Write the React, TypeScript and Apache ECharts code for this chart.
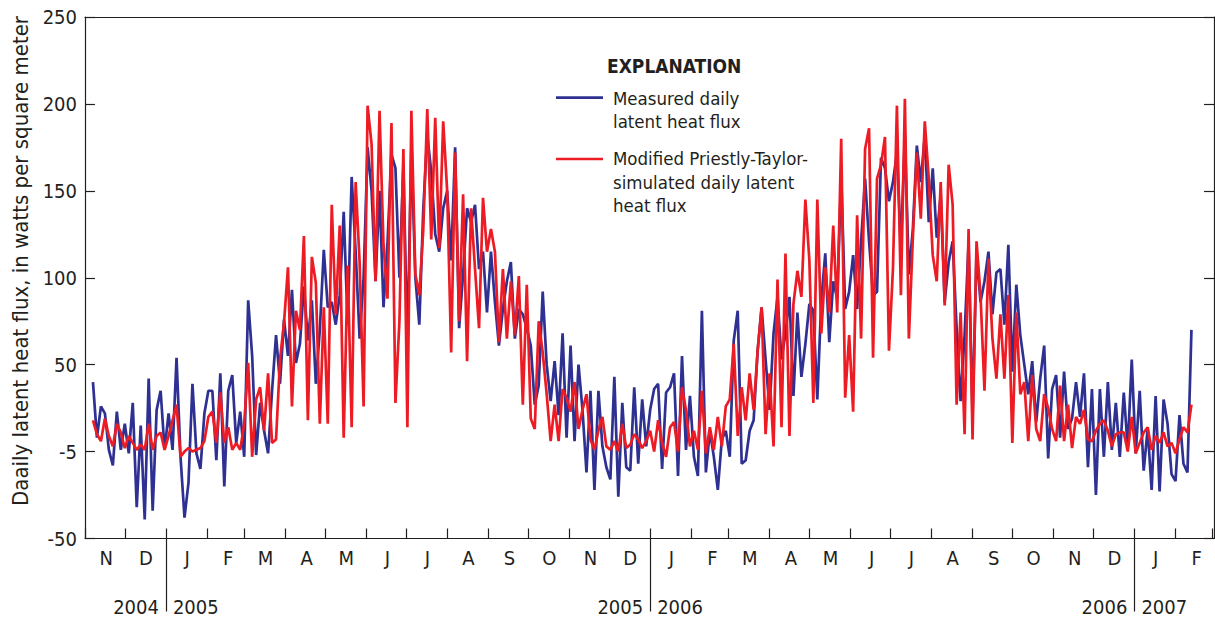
import React, { useEffect, useRef } from "react";
import * as echarts from "echarts";

const FONT = "'Liberation Sans Narrow', 'DejaVu Sans Condensed', 'Roboto Condensed', 'Noto Sans', sans-serif";
const INK = "#231F20";
const BLUE = "#2E3192";
const RED = "#ED1C24";

// Axis runs daily from 1 Nov 2004
const axisStartUTC = Date.UTC(2004, 10, 1);
const axisDays = 852;
// Values every third day, starting 7 Nov 2004
const sampleStartOffset = 6;
const sampleStepDays = 3;

const monthLetters = ["J", "F", "M", "A", "M", "J", "J", "A", "S", "O", "N", "D"];
const yTickValues = [-50, 0, 50, 100, 150, 200, 250];
const yTickLabels = ["-50", "-5", "50", "100", "150", "200", "250"];

// Measured daily latent heat flux (W/m2)
const measuredNov2004toAug2005 = [
  40, 8, 26, 22, 1, -8, 23, 1, 16, -1, 28, -32, 15, -39, 42, -34, 24, 35, 1, 22, 1, 54, -3, -38, -18, 39, -1, -10, 22, 35,
  35, -5, 45, -20, 35, 44, 5, 23, -3, 87, 55, -2, 28, 12, -1, 35, 67, 39, 76, 55, 93, 51, 62, 95, 64, 87, 39, 70, 116, 83, 86,
  73, 90, 138, 73, 158, 115, 65, 100, 175, 150, 98, 150, 83, 120, 171, 163, 100, 165, 60, 175, 100, 73, 140, 182, 161, 125, 115, 140, 150, 110, 175, 71,
];
const measuredAug2005toMay2006 = [
  102, 140, 132, 142, 105, 115, 80, 115, 86, 61, 82, 98, 109, 65, 82, 79, 71, 61, 27, 38, 92, 50, 29, 52, 21, 68, 8, 61, 6, 50,
  24, -12, 35, -22, 35, 3, -9, -16, 43, -26, 28, -9, -11, 37, -7, 30, 3, 24, 36, 39, -10, 34, 37, 45, -14, 55, 1, 32, -3, -14, 81,
  -12, 12, -3, -22, 7, 12, -3, 64, 81, -7, -5, 12, 18, 58, 83, 53, 24, 68, 89, 53, 68, 89, 32, 80, 43, 62, 85, 81, 30, 87, 114,
];
const measuredMay2006toFeb2007 = [
  63, 98, 88, 159, 82, 92, 113, 82, 121, 157, 121, 90, 92, 169, 163, 144, 155, 172, 117, 182, 102, 128, 176, 155, 182, 132, 163, 123, 148, 86, 109,
  121, 71, 29, 67, 120, 20, 115, 86, 98, 115, 79, 103, 105, 73, 119, 46, 96, 67, 50, 33, 52, 17, 42, 61, -4, 36, 44, 8, 46, 13, 19,
  40, 20, 45, -9, 36, -25, 36, -3, 40, 1, 28, -3, 34, 2, 53, -1, 35, -11, 13, -22, 32, -23, 30, 16, -13, -17, 21, -7, -12, 70,
];

// Modified Priestly-Taylor-simulated daily latent heat flux (W/m2)
const simulatedNov2004toAug2005 = [
  18, 10, 6, 19, 9, 3, 16, 11, 2, 9, 5, 1, 4, 1, 16, 1, 9, 11, 1, 9, 18, 27, -3, 0, 2, 0, 1, 2, 6, 20,
  23, 5, 34, 5, 14, 1, 5, 1, 16, 51, -3, 30, 37, 12, 45, 5, 7, 53, 74, 106, 26, 81, 70, 124, 18, 112, 97, 16, 83, 16, 142,
  79, 130, 8, 107, 14, 155, 109, 26, 199, 177, 98, 196, 119, 88, 189, 28, 75, 174, 14, 196, 102, 90, 128, 197, 122, 192, 117, 190, 150, 57, 172, 75,
];
const simulatedAug2005toMay2006 = [
  148, 52, 140, 105, 71, 146, 115, 128, 115, 63, 105, 65, 98, 67, 101, 27, 96, 19, 13, 75, 57, 33, 6, 27, 6, 36, 31, 23, 40, 13,
  24, 33, 7, 1, 12, 20, 3, 1, 6, 0, 16, 2, 4, 10, 7, 2, 6, 12, 0, 18, 5, -3, 14, 17, 0, 37, 24, 3, 12, 1, 35,
  -1, 14, 1, 20, 3, 26, 30, 62, 9, 37, 18, 45, 24, 58, 83, 10, 45, 3, 99, 14, 114, 9, 85, 104, 89, 145, 110, 28, 145, 68, 106,
];
const simulatedMay2006toFeb2007 = [
  80, 130, 80, 180, 31, 67, 23, 136, 65, 174, 186, 54, 157, 165, 181, 58, 105, 199, 90, 203, 65, 123, 172, 134, 190, 157, 113, 98, 155, 84, 165,
  142, 27, 80, 10, 128, 7, 121, 90, 35, 111, 65, 42, 79, 42, 90, 5, 80, 33, 40, 6, 44, 13, 6, 33, 25, 13, 6, 38, 6, 27, 2,
  20, 16, 24, 7, 6, 12, 16, 18, 12, 3, 10, 11, 11, 0, 20, -1, 5, 11, 14, 1, 9, 5, 11, 3, 5, -1, 7, 14, 11, 27,
];

const measured = [...measuredNov2004toAug2005, ...measuredAug2005toMay2006, ...measuredMay2006toFeb2007];
const simulated = [...simulatedNov2004toAug2005, ...simulatedAug2005toMay2006, ...simulatedMay2006toFeb2007];

function buildCategories(): string[] {
  const out: string[] = [];
  for (let i = 0; i < axisDays; i++) {
    out.push(new Date(axisStartUTC + i * 86400000).toISOString().slice(0, 10));
  }
  return out;
}

export default function App() {
  const ref = useRef<HTMLDivElement>(null);

  useEffect(() => {
    if (!ref.current) return;
    const chart = echarts.init(ref.current, undefined, { renderer: "svg" });
    const cats = buildCategories();
    const toPairs = (vals: number[]) =>
      vals.map((v, k) => [cats[sampleStartOffset + k * sampleStepDays], v]);

    const isMonthStart = (_i: number, v: string) => v.slice(8) === "01";
    const isMidMonth = (_i: number, v: string) => v.slice(8) === "17";
    const isYearStart = (_i: number, v: string) => v.slice(5) === "01-01";

    const axisLineStyle = { color: INK, width: 1.2 };

    const option: any = {
      animation: false,
      textStyle: { fontFamily: FONT, color: INK },
      grid: { left: 85, right: 1, top: 17, bottom: 81.5 },
      xAxis: [
        {
          type: "category",
          data: cats,
          boundaryGap: false,
          position: "bottom",
          axisLine: { onZero: false, lineStyle: axisLineStyle },
          axisTick: { show: true, inside: true, length: 10, interval: isMonthStart, lineStyle: axisLineStyle },
          axisLabel: {
            interval: isMidMonth,
            formatter: (v: string) => monthLetters[parseInt(v.slice(5, 7), 10) - 1],
            fontSize: 20,
            fontFamily: FONT,
            color: INK,
            margin: 9,
          },
          splitLine: { show: false },
        },
        {
          type: "category",
          data: cats,
          boundaryGap: false,
          position: "bottom",
          offset: 0,
          axisLine: { show: false, onZero: false },
          axisTick: { show: true, inside: false, length: 73, interval: isYearStart, lineStyle: axisLineStyle },
          axisLabel: {
            interval: isYearStart,
            formatter: (v: string) => {
              const y = parseInt(v.slice(0, 4), 10);
              return `{a|${y - 1}}{b|${y}}`;
            },
            margin: 58,
            fontSize: 20,
            fontFamily: FONT,
            color: INK,
            rich: {
              a: { padding: [0, 7, 0, 0], fontSize: 20, fontFamily: FONT, color: INK },
              b: { padding: [0, 0, 0, 7], fontSize: 20, fontFamily: FONT, color: INK },
            },
          },
          splitLine: { show: false },
        },
        {
          type: "category",
          data: cats,
          boundaryGap: false,
          position: "top",
          axisLine: { onZero: false, lineStyle: axisLineStyle },
          axisTick: { show: false },
          axisLabel: { show: false },
          splitLine: { show: false },
        },
      ],
      yAxis: [
        {
          type: "value",
          min: -50,
          max: 250,
          interval: 50,
          axisLine: { show: true, onZero: false, lineStyle: axisLineStyle },
          axisTick: { show: true, inside: true, length: 10, lineStyle: axisLineStyle },
          axisLabel: {
            fontSize: 20,
            fontFamily: FONT,
            color: INK,
            margin: 8,
            formatter: (v: number) => {
              const i = yTickValues.indexOf(v);
              return i >= 0 ? yTickLabels[i] : "";
            },
          },
          splitLine: { show: false },
        },
        {
          type: "value",
          min: -50,
          max: 250,
          interval: 50,
          position: "right",
          axisLine: { show: true, onZero: false, lineStyle: axisLineStyle },
          axisTick: { show: true, inside: true, length: 10, lineStyle: axisLineStyle },
          axisLabel: { show: false },
          splitLine: { show: false },
        },
      ],
      series: [
        {
          name: "Measured daily latent heat flux",
          type: "line",
          data: toPairs(measured),
          showSymbol: false,
          symbol: "none",
          lineStyle: { color: BLUE, width: 2.7 },
          itemStyle: { color: BLUE },
          z: 2,
        },
        {
          name: "Modified Priestly-Taylor-simulated daily latent heat flux",
          type: "line",
          data: toPairs(simulated),
          showSymbol: false,
          symbol: "none",
          lineStyle: { color: RED, width: 2.7 },
          itemStyle: { color: RED },
          z: 3,
        },
      ],
      graphic: [
        {
          type: "text",
          x: 20,
          y: 261,
          rotation: Math.PI / 2,
          style: {
            text: "Daaily latent heat flux, in watts per square meter",
            fontSize: 22,
            fontFamily: FONT,
            fill: INK,
            align: "center",
            verticalAlign: "middle",
          },
        },
        {
          type: "text",
          x: 607,
          y: 66,
          style: {
            text: "EXPLANATION",
            fontSize: 19,
            fontWeight: "bold",
            fontFamily: FONT,
            fill: INK,
            align: "left",
            verticalAlign: "middle",
          },
        },
        {
          type: "line",
          shape: { x1: 556, y1: 97.7, x2: 603, y2: 97.7 },
          style: { stroke: BLUE, lineWidth: 2.7 },
        },
        {
          type: "text",
          x: 613,
          y: 86.6,
          style: {
            text: "Measured daily\nlatent heat flux",
            fontSize: 18.5,
            lineHeight: 23.4,
            fontFamily: FONT,
            fill: INK,
            align: "left",
            verticalAlign: "top",
          },
        },
        {
          type: "line",
          shape: { x1: 556, y1: 159, x2: 603, y2: 159 },
          style: { stroke: RED, lineWidth: 2.7 },
        },
        {
          type: "text",
          x: 613,
          y: 147.3,
          style: {
            text: "Modified Priestly-Taylor-\nsimulated daily latent\nheat flux",
            fontSize: 18.5,
            lineHeight: 23.4,
            fontFamily: FONT,
            fill: INK,
            align: "left",
            verticalAlign: "top",
          },
        },
      ],
    };

    chart.setOption(option);
    return () => chart.dispose();
  }, []);

  return (
    <div
      ref={ref}
      style={{ position: "absolute", left: 0, top: 0, width: 1215, height: 620, background: "#ffffff" }}
    />
  );
}
